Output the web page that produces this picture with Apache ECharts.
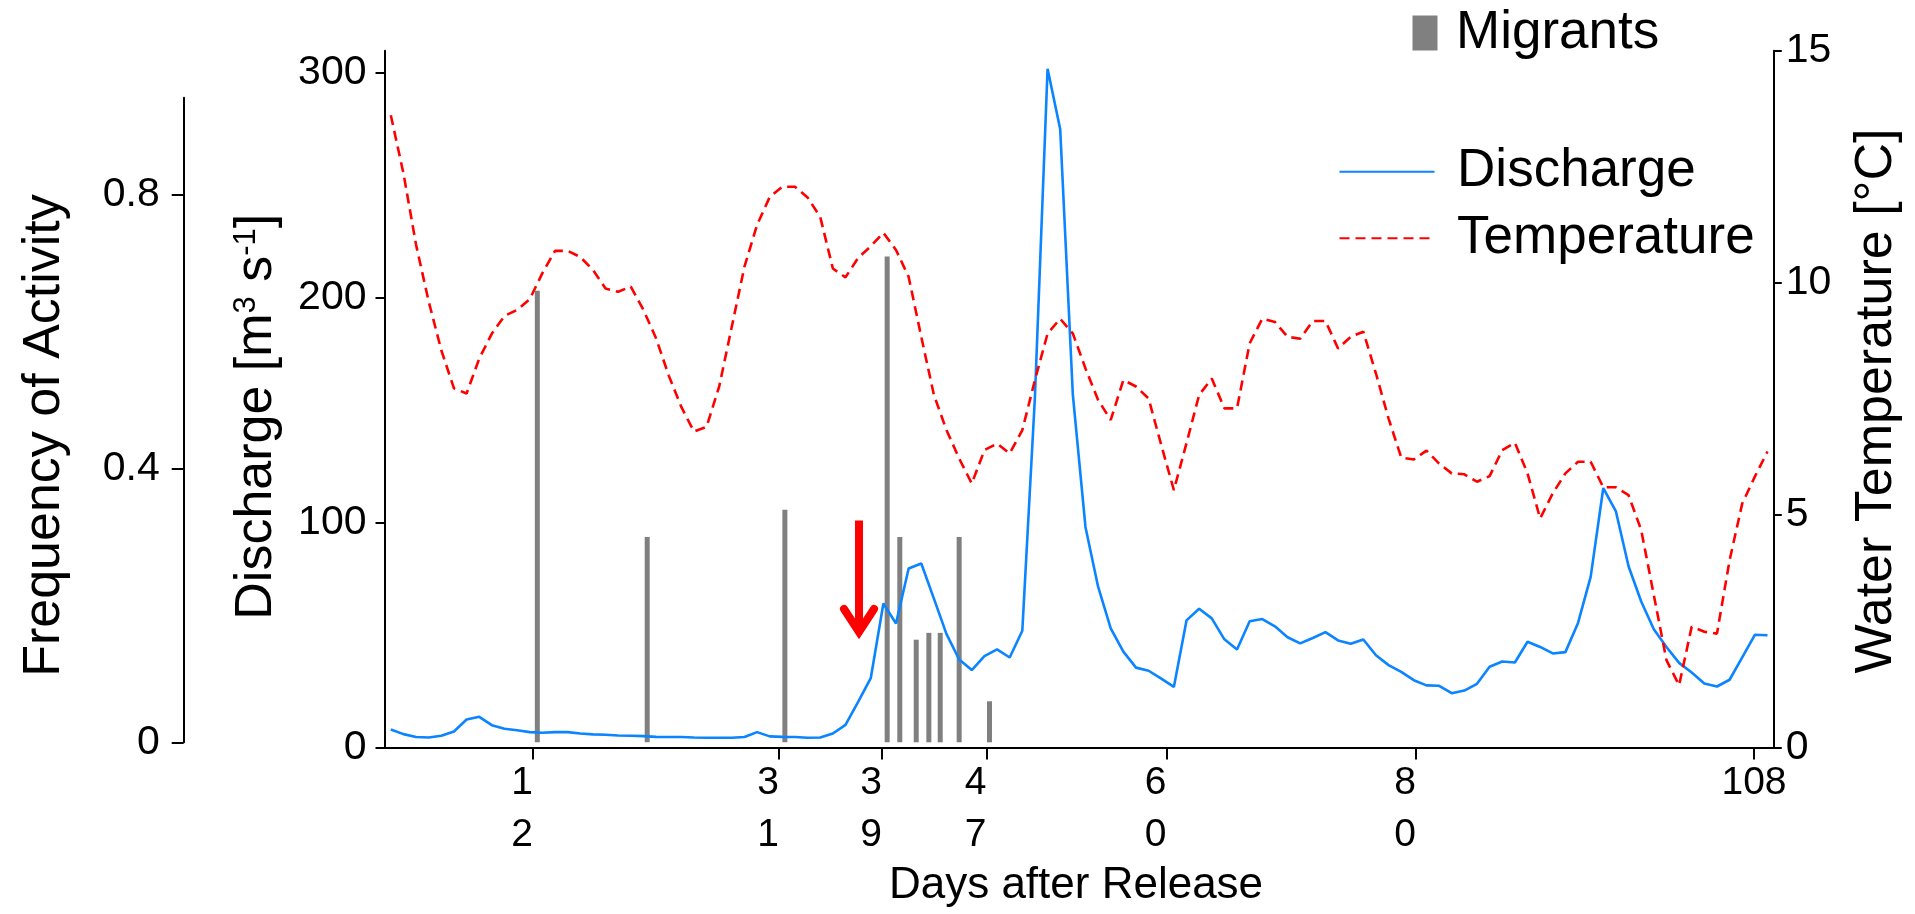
<!DOCTYPE html>
<html>
<head>
<meta charset="utf-8">
<script src="https://cdn.jsdelivr.net/npm/echarts@6/dist/echarts.min.js"></script>
<style>
  html, body { margin: 0; padding: 0; background: #fff; }
  #main { width: 1915px; height: 914px; }
</style>
</head>
<body>
<div id="main"></div>
<script>
// daily samples, index 0..109
const discharge = [
  8.0, 5.9, 4.6, 4.4, 5.2, 7.1, 12.4, 13.6, 9.9, 8.3,
  7.6, 6.8, 6.5, 6.8, 6.8, 6.2, 5.8, 5.6, 5.3, 5.2,
  5.0, 4.7, 4.6, 4.6, 4.4, 4.3, 4.3, 4.3, 4.6, 6.8,
  4.9, 4.7, 4.6, 4.3, 4.4, 6.2, 10.0, 20.3, 30.8, 64.0,
  55.1, 79.6, 81.8, 66.2, 50.4, 39.1, 34.4, 40.6, 43.6, 40.0,
  51.9, 156, 302, 275, 157, 98.1, 71.5, 53.0, 42.6, 35.5,
  34.1, 30.6, 26.9, 56.5, 61.7, 57.4, 48.1, 43.6, 56.1, 57.1,
  53.9, 49.0, 46.3, 48.7, 51.3, 47.6, 46.1, 48.0, 41.0, 36.6,
  33.6, 29.9, 27.6, 27.4, 24.1, 25.3, 28.3, 35.9, 38.2, 37.8,
  47.0, 44.7, 41.8, 42.4, 55.4, 75.9, 115.4, 105.0, 80.6, 64.9,
  52.6, 44.7, 37.6, 33.3, 28.4, 27.1, 30.1, 40.1, 50.1, 49.9
];
const temperature = [
  13.61, 12.36, 10.82, 9.60, 8.55, 7.73, 7.62, 8.37, 8.91, 9.29,
  9.42, 9.65, 10.21, 10.69, 10.69, 10.56, 10.28, 9.88, 9.81, 9.92,
  9.42, 8.81, 8.01, 7.33, 6.80, 6.90, 7.77, 9.06, 10.35, 11.25,
  11.85, 12.07, 12.07, 11.84, 11.42, 10.31, 10.12, 10.54, 10.79, 11.08,
  10.71, 10.13, 8.84, 7.59, 6.83, 6.22, 5.68, 6.40, 6.54, 6.33,
  6.83, 7.91, 8.91, 9.23, 8.91, 8.16, 7.48, 7.05, 7.91, 7.77,
  7.51, 6.51, 5.54, 6.55, 7.59, 7.94, 7.30, 7.30, 8.70, 9.23,
  9.16, 8.84, 8.80, 9.18, 9.18, 8.59, 8.84, 8.95, 8.05, 7.08,
  6.24, 6.20, 6.39, 6.11, 5.90, 5.88, 5.72, 5.84, 6.40, 6.56,
  5.90, 4.93, 5.47, 5.90, 6.15, 6.15, 5.60, 5.60, 5.43, 4.68,
  3.28, 1.88, 1.34, 2.60, 2.49, 2.45, 4.03, 5.25, 5.83, 6.37
];
// migrant activity bars (position on the sample axis, frequency)
const migrantAt = [11.6, 20.3, 31.2, 39.3, 40.3, 41.6, 42.6, 43.5, 45.0, 47.4];
const migrantFreq = [0.66, 0.30, 0.34, 0.71, 0.30, 0.15, 0.16, 0.16, 0.30, 0.06];

// x ticks as drawn in the figure
const tickAt = [11.26, 30.74, 38.89, 47.18, 61.43, 81.17, 107.93];
const tickLabels = ['1\n2', '3\n1', '3\n9', '4\n7', '6\n0', '8\n0', '108'];
const dischargeTicks = [0, 100, 200, 300];
const tempTicks = [0, 5, 10, 15];
const freqTicks = [0, 0.4, 0.8];

// red arrow (sample position, discharge from -> to)
const arrowAt = 37.07;
const arrowFrom = 101;
const arrowTo = 47.8;

const FONT = 'Liberation Sans, Arial, sans-serif';
const chart = echarts.init(document.getElementById('main'));

const tickLabel = (v) => {
  let k = 0;
  tickAt.forEach((t, i) => { if (Math.abs(t - v) < Math.abs(tickAt[k] - v)) k = i; });
  const s = tickLabels[k];
  if (s.indexOf('\n') < 0) return s;
  return s.split('\n').map(p => '{w|' + p + '}').join('\n');
};

const axisText = { color: '#000', fontFamily: FONT, fontSize: 41 };
const blackLine = { show: true, onZero: false, lineStyle: { color: '#000', width: 2 } };

const option = {
  animation: false,
  backgroundColor: '#fff',
  textStyle: { fontFamily: FONT },
  grid: [
    { left: 384.5, right: 141.2, top: 50.7, bottom: 166.6 },
    { left: 384.5, right: 141.2, top: 97.7, bottom: 171.7 }
  ],
  xAxis: [
    {
      gridIndex: 0, type: 'value', min: -0.5, max: 109.5,
      axisLine: blackLine,
      axisTick: { show: true, customValues: tickAt, length: 12, lineStyle: { color: '#000', width: 2 } },
      axisLabel: Object.assign({}, axisText, {
        fontSize: 39, customValues: tickAt, formatter: tickLabel, lineHeight: 52, margin: 10,
        rich: { w: { fontSize: 39, fontFamily: FONT, lineHeight: 52, padding: [0, 22, 0, 0] } }
      }),
      splitLine: { show: false }
    },
    { gridIndex: 1, type: 'value', min: -0.5, max: 109.5, show: false }
  ],
  yAxis: [
    {
      gridIndex: 0, type: 'value', position: 'left', min: 0, max: 310,
      axisLine: blackLine,
      axisTick: { show: true, customValues: dischargeTicks, length: 9, lineStyle: { color: '#000', width: 2 } },
      axisLabel: Object.assign({}, axisText, { customValues: dischargeTicks, margin: 18 }),
      splitLine: { show: false }
    },
    {
      gridIndex: 0, type: 'value', position: 'right', min: 0, max: 15,
      axisLine: blackLine,
      axisTick: { show: true, customValues: tempTicks, length: 8, lineStyle: { color: '#000', width: 2 } },
      axisLabel: Object.assign({}, axisText, { customValues: tempTicks, margin: 12 }),
      splitLine: { show: false }
    },
    {
      gridIndex: 1, type: 'value', position: 'left', offset: 200.8, min: 0, max: 0.9423,
      axisLine: blackLine,
      axisTick: { show: true, customValues: freqTicks, length: 12, lineStyle: { color: '#000', width: 2 } },
      axisLabel: Object.assign({}, axisText, { customValues: freqTicks, margin: 24 }),
      splitLine: { show: false }
    }
  ],
  legend: [
    {
      data: ['Migrants'], left: 1407.5, top: 1.5, selectedMode: false,
      icon: 'rect', itemWidth: 25, itemHeight: 35,
      textStyle: { color: '#000', fontFamily: FONT, fontSize: 53, lineHeight: 52, padding: [0, 0, 0, 13.5] }
    },
    {
      data: ['Discharge', 'Temperature'], orient: 'vertical', left: 1333.5, top: 135.7, selectedMode: false,
      itemWidth: 95, itemHeight: 14, itemGap: 4.6,
      itemStyle: { opacity: 0 },
      textStyle: { color: '#000', fontFamily: FONT, fontSize: 53, lineHeight: 40, padding: [0, 0, 22, 17.6] }
    }
  ],
  graphic: [
    {
      type: 'text', x: 45, y: 435.5, rotation: Math.PI / 2,
      style: { text: 'Frequency of Activity', fill: '#000', font: '52px ' + FONT, align: 'center', verticalAlign: 'middle' }
    },
    {
      type: 'text', x: 257, y: 416.7, rotation: Math.PI / 2,
      style: {
        text: '{n|Discharge [m}{s|3}{n| s}{s|-1}{n|]}', fill: '#000', align: 'center', verticalAlign: 'middle',
        rich: {
          n: { fontSize: 52, fontFamily: FONT, fill: '#000' },
          s: { fontSize: 31, fontFamily: FONT, fill: '#000', verticalAlign: 'top' }
        }
      }
    },
    {
      type: 'text', x: 1877, y: 401, rotation: Math.PI / 2,
      style: { text: 'Water Temperature [°C]', fill: '#000', font: '52px ' + FONT, align: 'center', verticalAlign: 'middle' }
    },
    {
      type: 'text', x: 1076, y: 886,
      style: { text: 'Days after Release', fill: '#000', font: '44px ' + FONT, align: 'center', verticalAlign: 'middle' }
    }
  ],
  series: [
    {
      name: 'Discharge', type: 'line', xAxisIndex: 0, yAxisIndex: 0,
      data: discharge.map((v, i) => [i, v]),
      symbol: 'none', lineStyle: { color: '#0a84ff', width: 2.6 }, itemStyle: { color: '#0a84ff' }
    },
    {
      name: 'Temperature', type: 'line', xAxisIndex: 0, yAxisIndex: 1,
      data: temperature.map((v, i) => [i, v]),
      symbol: 'none', lineStyle: { color: '#ff0000', width: 2.6, type: [10, 6] }, itemStyle: { color: '#ff0000' }
    },
    {
      name: 'Migrants', type: 'bar', xAxisIndex: 1, yAxisIndex: 2,
      data: migrantAt.map((x, i) => [x, migrantFreq[i]]),
      barWidth: 5, itemStyle: { color: '#808080' }
    }
  ]
};

chart.setOption(option);

// arrow anchored in data units, converted by the chart's own scales
const pTop = chart.convertToPixel({ xAxisIndex: 0, yAxisIndex: 0 }, [arrowAt, arrowFrom]);
const pTip = chart.convertToPixel({ xAxisIndex: 0, yAxisIndex: 0 }, [arrowAt, arrowTo]);
chart.setOption({
  graphic: [
    {
      type: 'line', id: 'arrowShaft', z: 100,
      shape: { x1: pTop[0], y1: pTop[1], x2: pTip[0], y2: pTip[1] - 10 },
      style: { stroke: '#ff0000', lineWidth: 8 }
    },
    {
      type: 'polyline', id: 'arrowHead', z: 100,
      shape: { points: [[pTip[0] - 15, pTip[1] - 31], [pTip[0], pTip[1] - 8], [pTip[0] + 15, pTip[1] - 31]] },
      style: { stroke: '#ff0000', fill: null, lineWidth: 8, lineJoin: 'miter', lineCap: 'round' }
    }
  ]
});
</script>
</body>
</html>
